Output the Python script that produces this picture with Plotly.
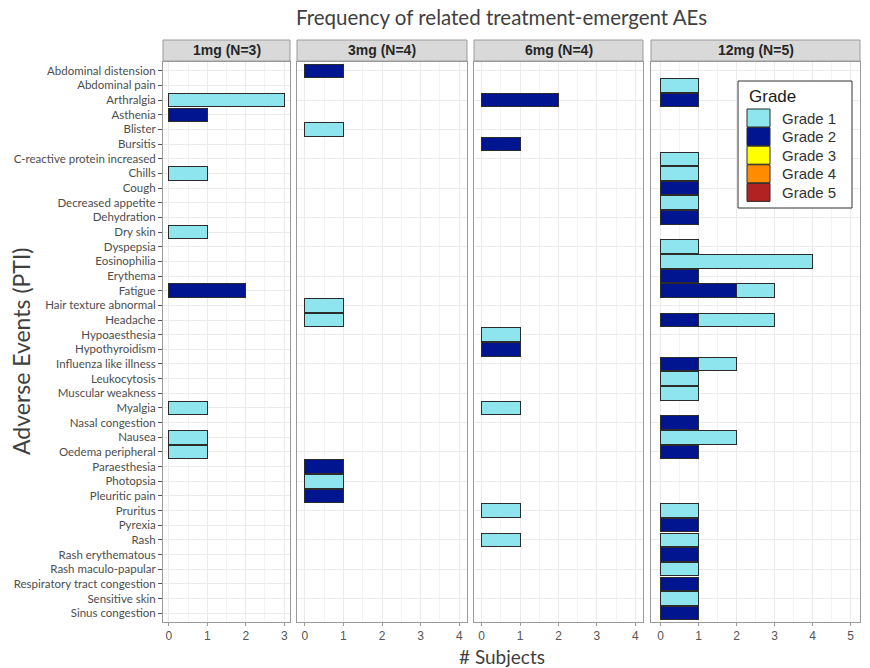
import plotly.graph_objects as go

W, H = 870, 668

categories = [
    "Abdominal distension", "Abdominal pain", "Arthralgia", "Asthenia", "Blister",
    "Bursitis", "C-reactive protein increased", "Chills", "Cough", "Decreased appetite",
    "Dehydration", "Dry skin", "Dyspepsia", "Eosinophilia", "Erythema", "Fatigue",
    "Hair texture abnormal", "Headache", "Hypoaesthesia", "Hypothyroidism",
    "Influenza like illness", "Leukocytosis", "Muscular weakness", "Myalgia",
    "Nasal congestion", "Nausea", "Oedema peripheral", "Paraesthesia", "Photopsia",
    "Pleuritic pain", "Pruritus", "Pyrexia", "Rash", "Rash erythematous",
    "Rash maculo-papular", "Respiratory tract congestion", "Sensitive skin",
    "Sinus congestion",
]

panel_labels = ["1mg (N=3)", "3mg (N=4)", "6mg (N=4)", "12mg (N=5)"]
panel_xmax = [3, 4, 4, 5]

grade_names = ["Grade 1", "Grade 2", "Grade 3", "Grade 4", "Grade 5"]
grade_colors = ["#8EE5EE", "#00158F", "#FFFF00", "#FF8C00", "#B22222"]

# 1mg
g1_events_1mg = ["Arthralgia", "Chills", "Dry skin", "Myalgia", "Nausea", "Oedema peripheral"]
g1_counts_1mg = [3, 1, 1, 1, 1, 1]
g2_events_1mg = ["Asthenia", "Fatigue"]
g2_counts_1mg = [1, 2]
# 3mg
g1_events_3mg = ["Blister", "Hair texture abnormal", "Headache", "Photopsia"]
g1_counts_3mg = [1, 1, 1, 1]
g2_events_3mg = ["Abdominal distension", "Paraesthesia", "Pleuritic pain"]
g2_counts_3mg = [1, 1, 1]
# 6mg
g1_events_6mg = ["Hypoaesthesia", "Myalgia", "Pruritus", "Rash"]
g1_counts_6mg = [1, 1, 1, 1]
g2_events_6mg = ["Arthralgia", "Bursitis", "Hypothyroidism"]
g2_counts_6mg = [2, 1, 1]
# 12mg
g1_events_12mg = ["Abdominal pain", "C-reactive protein increased", "Chills", "Decreased appetite",
                  "Dyspepsia", "Eosinophilia", "Fatigue", "Headache", "Influenza like illness",
                  "Leukocytosis", "Muscular weakness", "Nausea", "Pruritus", "Rash",
                  "Rash maculo-papular", "Sensitive skin"]
g1_counts_12mg = [1, 1, 1, 1, 1, 4, 1, 2, 1, 1, 1, 2, 1, 1, 1, 1]
g2_events_12mg = ["Arthralgia", "Cough", "Dehydration", "Erythema", "Fatigue", "Headache",
                  "Influenza like illness", "Nasal congestion", "Oedema peripheral", "Pyrexia",
                  "Rash erythematous", "Respiratory tract congestion", "Sinus congestion"]
g2_counts_12mg = [1, 1, 1, 1, 2, 1, 1, 1, 1, 1, 1, 1, 1]

panel_g1 = [(g1_events_1mg, g1_counts_1mg), (g1_events_3mg, g1_counts_3mg),
            (g1_events_6mg, g1_counts_6mg), (g1_events_12mg, g1_counts_12mg)]
panel_g2 = [(g2_events_1mg, g2_counts_1mg), (g2_events_3mg, g2_counts_3mg),
            (g2_events_6mg, g2_counts_6mg), (g2_events_12mg, g2_counts_12mg)]

# layout geometry in pixels
panel_px = [(163, 290), (297, 467), (474, 643), (651, 860)]
plot_top, plot_bottom = 62, 622
strip_top, strip_bottom = 40, 61

LABEL_FONT = "Lato, 'Open Sans', sans-serif"
NUM_FONT = "'Liberation Sans', Arial, sans-serif"
BAR_LINE = dict(color="#2b2b2b", width=1)
BAR_W = 0.92


def px_x(v):
    return v / W


def px_y(v):
    return 1 - v / H


fig = go.Figure()

n = len(categories)
for i in range(4):
    ax = "" if i == 0 else str(i + 1)
    # Grade 2 first (base of the stack), then Grade 1
    ev2, c2 = panel_g2[i]
    fig.add_trace(go.Bar(
        x=c2, y=ev2, orientation="h", name=grade_names[1], showlegend=False,
        marker=dict(color=grade_colors[1], line=BAR_LINE),
        width=BAR_W, xaxis="x" + ax, yaxis="y" + ax))
    ev1, c1 = panel_g1[i]
    fig.add_trace(go.Bar(
        x=c1, y=ev1, orientation="h", name=grade_names[0], showlegend=False,
        marker=dict(color=grade_colors[0], line=BAR_LINE),
        width=BAR_W, xaxis="x" + ax, yaxis="y" + ax))

shapes = []
annotations = []
layout_axes = {}
for i in range(4):
    ax = "" if i == 0 else str(i + 1)
    x0, x1 = panel_px[i]
    xm = panel_xmax[i]
    layout_axes["xaxis" + ax] = dict(
        domain=[px_x(x0), px_x(x1)], anchor="y" + ax,
        range=[-0.05 * xm, 1.05 * xm], dtick=1, tick0=0,
        showgrid=True, gridcolor="#EBEBEB", gridwidth=1,
        minor=dict(dtick=0.5, showgrid=True, gridcolor="#F4F4F4", gridwidth=1),
        showline=True, mirror=True, linecolor="#9A9A9A", linewidth=1,
        ticks="outside", ticklen=3, tickcolor="#9A9A9A",
        tickfont=dict(family=NUM_FONT, size=12, color="#555555"),
        zeroline=False, fixedrange=True,
    )
    ydict = dict(
        domain=[px_y(plot_bottom), px_y(plot_top)], anchor="x" + ax,
        type="category", categoryorder="array", categoryarray=categories,
        range=[n - 1 + 0.6, -0.6],
        showgrid=True, gridcolor="#EBEBEB", gridwidth=1,
        showline=True, mirror=True, linecolor="#9A9A9A", linewidth=1,
        zeroline=False, fixedrange=True,
    )
    if i == 0:
        ydict.update(showticklabels=True, ticks="outside", ticklen=4, tickcolor="#555555",
                     tickfont=dict(family=LABEL_FONT, size=11.5, color="#4D4D4D"))
    else:
        ydict.update(showticklabels=False, ticks="", matches="y")
    layout_axes["yaxis" + ax] = ydict

    shapes.append(dict(type="rect", xref="paper", yref="paper",
                       x0=px_x(x0), x1=px_x(x1), y0=px_y(strip_bottom), y1=px_y(strip_top),
                       fillcolor="#D9D9D9", line=dict(color="#9A9A9A", width=1), layer="below"))
    annotations.append(dict(text="<b>" + panel_labels[i] + "</b>", xref="paper", yref="paper",
                            x=px_x((x0 + x1) / 2), y=px_y((strip_top + strip_bottom) / 2),
                            showarrow=False, xanchor="center", yanchor="middle",
                            font=dict(family=NUM_FONT, size=14, color="#262626")))

# titles
annotations.append(dict(text="Frequency of related treatment-emergent AEs", xref="paper", yref="paper",
                        x=px_x(501), y=px_y(17), showarrow=False, xanchor="center", yanchor="middle",
                        font=dict(family=LABEL_FONT, size=20.5, color="#3F3F3F")))
annotations.append(dict(text="# Subjects", xref="paper", yref="paper",
                        x=px_x(502), y=px_y(656), showarrow=False, xanchor="center", yanchor="middle",
                        font=dict(family=LABEL_FONT, size=19, color="#3F3F3F")))
annotations.append(dict(text="Adverse Events (PTI)", xref="paper", yref="paper",
                        x=px_x(21), y=px_y(351), showarrow=False, xanchor="center", yanchor="middle",
                        textangle=-90,
                        font=dict(family=LABEL_FONT, size=23, color="#3F3F3F")))

# legend (Grade) drawn as box + keys + text
leg_x0, leg_x1, leg_y0, leg_y1 = 738, 852, 81, 208
shapes.append(dict(type="rect", xref="paper", yref="paper",
                   x0=px_x(leg_x0), x1=px_x(leg_x1), y0=px_y(leg_y1), y1=px_y(leg_y0),
                   fillcolor="white", line=dict(color="#333333", width=1), layer="above"))
annotations.append(dict(text="Grade", xref="paper", yref="paper",
                        x=px_x(747), y=px_y(96), showarrow=False, xanchor="left", yanchor="middle",
                        font=dict(family=NUM_FONT, size=17, color="#1A1A1A")))
key_top0, key_step, key_h = 109, 18.6, 18
for g, (gname, gcol) in enumerate(zip(grade_names, grade_colors)):
    ky0 = key_top0 + g * key_step
    shapes.append(dict(type="rect", xref="paper", yref="paper",
                       x0=px_x(747), x1=px_x(770), y0=px_y(ky0 + key_h), y1=px_y(ky0),
                       fillcolor=gcol, line=dict(color="#2b2b2b", width=1), layer="above"))
    annotations.append(dict(text=gname, xref="paper", yref="paper",
                            x=px_x(780), y=px_y(ky0 + key_h / 2), showarrow=False,
                            xanchor="left", yanchor="middle",
                            font=dict(family=NUM_FONT, size=15, color="#333333")))

fig.update_layout(
    width=W, height=H,
    margin=dict(l=0, r=0, t=0, b=0),
    paper_bgcolor="white", plot_bgcolor="white",
    barmode="stack", bargap=0.08, showlegend=False,
    shapes=shapes, annotations=annotations,
    **layout_axes,
)

fig.write_html("out.html", config={"displayModeBar": False},
               post_script="document.body.style.margin='0';")
